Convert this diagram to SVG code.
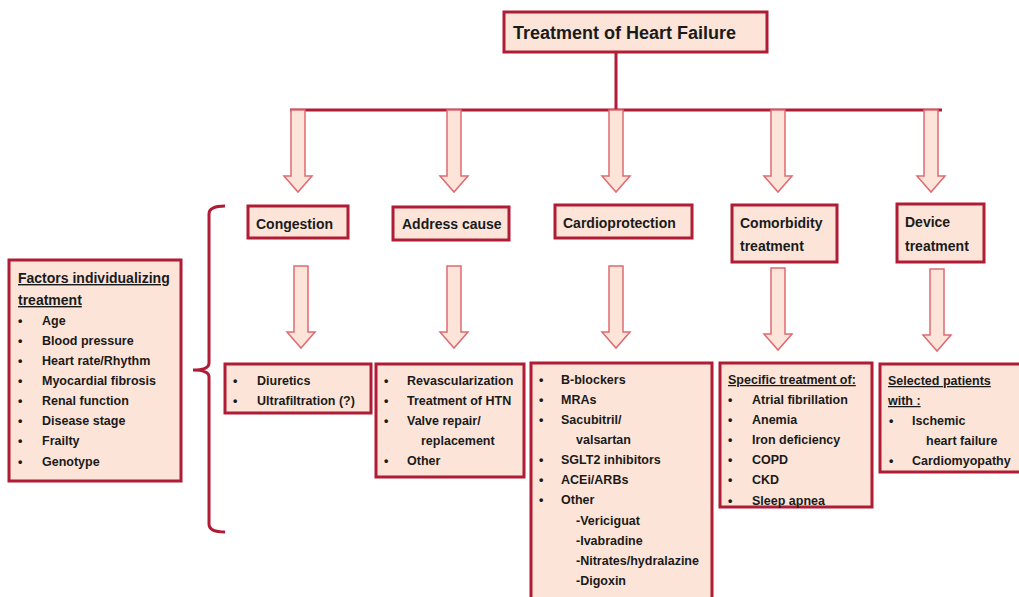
<svg xmlns="http://www.w3.org/2000/svg" width="1019" height="597" viewBox="0 0 1019 597">
<style>
.box{fill:#fce5d8;stroke:#b01c35;stroke-width:3}
.ln{fill:none;stroke:#b01c35;stroke-width:3}
.arr{fill:#fce5d8;stroke:#e06a72;stroke-width:1.5}
text{font-family:"Liberation Sans",Arial,sans-serif;font-weight:bold;fill:#1a1a1a}
.t{font-size:18px}
.h{font-size:14px}
.l{font-size:12.5px}
.u{text-decoration:underline}
</style>
<defs>
<path id="a" d="M-7,0 L7,0 L7,66 L14,66 L0,82 L-14,66 L-7,66 Z"/>
</defs>
<rect width="1019" height="597" fill="#ffffff"/>
<g id="connectors">
<path class="ln" d="M616,52 L616,110 M290,110 L942,110"/>
<use href="#a" class="arr" transform="translate(298,110)"/>
<use href="#a" class="arr" transform="translate(454,110)"/>
<use href="#a" class="arr" transform="translate(616,110)"/>
<use href="#a" class="arr" transform="translate(778,110)"/>
<use href="#a" class="arr" transform="translate(931,110)"/>
<use href="#a" class="arr" transform="translate(301,266)"/>
<use href="#a" class="arr" transform="translate(454,266)"/>
<use href="#a" class="arr" transform="translate(616,266)"/>
<use href="#a" class="arr" transform="translate(778,268)"/>
<use href="#a" class="arr" transform="translate(937,269)"/>
<path class="ln" d="M225,206 Q209,206 209,214 L209,363 Q209,370 193,370 Q209,370 209,377 L209,524 Q209,532 225,532"/>
</g>
<g id="title">
<rect class="box" x="504" y="12" width="263" height="40"/>
<text class="t" x="513" y="39">Treatment of Heart Failure</text>
</g>
<g id="congestion">
<rect class="box" x="248" y="206" width="100" height="32"/>
<text class="h" x="256" y="229">Congestion</text>
</g>
<g id="address-cause">
<rect class="box" x="393" y="207" width="116" height="33"/>
<text class="h" x="402" y="229">Address cause</text>
</g>
<g id="cardioprotection">
<rect class="box" x="555" y="205" width="137" height="33"/>
<text class="h" x="563" y="228">Cardioprotection</text>
</g>
<g id="comorbidity">
<rect class="box" x="732" y="205" width="105" height="57"/>
<text class="h" x="740" y="228">Comorbidity</text>
<text class="h" x="740" y="251">treatment</text>
</g>
<g id="device">
<rect class="box" x="897" y="204" width="87" height="58"/>
<text class="h" x="905" y="227">Device</text>
<text class="h" x="905" y="251">treatment</text>
</g>
<g id="factors">
<rect class="box" x="9" y="260" width="172" height="221"/>
<text class="h u" x="18" y="283">Factors individualizing</text>
<text class="h u" x="18" y="305">treatment</text>
<g class="l">
<text x="18" y="325">•</text><text x="42" y="325">Age</text>
<text x="18" y="345">•</text><text x="42" y="345">Blood pressure</text>
<text x="18" y="365">•</text><text x="42" y="365">Heart rate/Rhythm</text>
<text x="18" y="385">•</text><text x="42" y="385">Myocardial fibrosis</text>
<text x="18" y="405">•</text><text x="42" y="405">Renal function</text>
<text x="18" y="425">•</text><text x="42" y="425">Disease stage</text>
<text x="18" y="445">•</text><text x="42" y="445">Frailty</text>
<text x="18" y="466">•</text><text x="42" y="466">Genotype</text>
</g>
</g>
<g id="congestion-list">
<rect class="box" x="225" y="364" width="146" height="49"/>
<g class="l">
<text x="233" y="385">•</text><text x="257" y="385">Diuretics</text>
<text x="233" y="405">•</text><text x="257" y="405">Ultrafiltration (?)</text>
</g>
</g>
<g id="cause-list">
<rect class="box" x="376" y="364" width="148" height="113"/>
<g class="l">
<text x="384" y="385">•</text><text x="407" y="385">Revascularization</text>
<text x="384" y="405">•</text><text x="407" y="405">Treatment of HTN</text>
<text x="384" y="425">•</text><text x="407" y="425">Valve repair/</text>
<text x="421" y="445">replacement</text>
<text x="384" y="465">•</text><text x="407" y="465">Other</text>
</g>
</g>
<g id="cardio-list">
<rect class="box" x="531" y="363" width="181" height="245"/>
<g class="l">
<text x="539" y="384">•</text><text x="561" y="384">B-blockers</text>
<text x="539" y="404">•</text><text x="561" y="404">MRAs</text>
<text x="539" y="424">•</text><text x="561" y="424">Sacubitril/</text>
<text x="576" y="444">valsartan</text>
<text x="539" y="464">•</text><text x="561" y="464">SGLT2 inhibitors</text>
<text x="539" y="484">•</text><text x="561" y="484">ACEi/ARBs</text>
<text x="539" y="504">•</text><text x="561" y="504">Other</text>
<text x="576" y="525">-Vericiguat</text>
<text x="576" y="545">-Ivabradine</text>
<text x="576" y="565">-Nitrates/hydralazine</text>
<text x="576" y="585">-Digoxin</text>
</g>
</g>
<g id="comorbidity-list">
<rect class="box" x="720" y="363" width="152" height="144"/>
<g class="l">
<text class="u" x="728" y="384">Specific treatment of:</text>
<text x="728" y="404">•</text><text x="752" y="404">Atrial fibrillation</text>
<text x="728" y="424">•</text><text x="752" y="424">Anemia</text>
<text x="728" y="444">•</text><text x="752" y="444">Iron deficiency</text>
<text x="728" y="464">•</text><text x="752" y="464">COPD</text>
<text x="728" y="484">•</text><text x="752" y="484">CKD</text>
<text x="728" y="505">•</text><text x="752" y="505">Sleep apnea</text>
</g>
</g>
<g id="device-list">
<rect class="box" x="880" y="364" width="142" height="108"/>
<g class="l">
<text class="u" x="888" y="385">Selected patients</text>
<text class="u" x="888" y="405">with :</text>
<text x="889" y="425">•</text><text x="912" y="425">Ischemic</text>
<text x="926" y="445">heart failure</text>
<text x="889" y="465">•</text><text x="912" y="465">Cardiomyopathy</text>
</g>
</g>
</svg>
